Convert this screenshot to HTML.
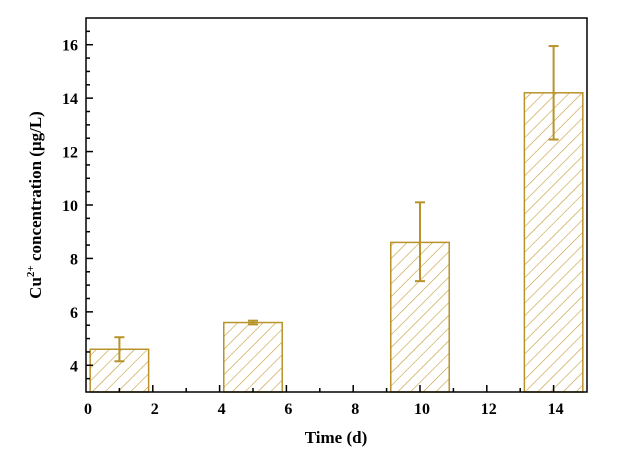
<!DOCTYPE html>
<html><head><meta charset="utf-8"><style>
body{margin:0;background:#fff;}
svg text{font-family:"Liberation Serif",serif;font-weight:bold;fill:#000;}
</style></head><body>
<svg id="chart" width="643" height="467" viewBox="0 0 643 467" xmlns="http://www.w3.org/2000/svg">
<defs>
<pattern id="hatch" patternUnits="userSpaceOnUse" width="9" height="9" patternTransform="rotate(45)">
<line x1="0" y1="0" x2="0" y2="9" stroke="#c49a3a" stroke-width="1.2"/>
</pattern>
</defs>
<g id="bars"></g>
<g id="axes"></g>
<text x="336" y="443" font-size="17" text-anchor="middle">Time (d)</text>
<text transform="translate(41,205) rotate(-90)" font-size="17" text-anchor="middle">Cu<tspan dy="-7" font-size="11">2+</tspan><tspan dy="7"> concentration (μg/L)</tspan></text>
</svg>
<script>
const categories=[1,5,10,14];
const values=[4.6,5.6,8.6,14.2];
const errUp=[0.45,0.07,1.5,1.75];
const errDown=[0.45,0.07,1.45,1.75];
const xTicks=[0,2,4,6,8,10,12,14];
const yTicks=[4,6,8,10,12,14,16];
const L=86,R=587,T=18,B=392,xmin=0,xmax=15,ymin=3,ymax=17;
const xs=v=>L+(v-xmin)/(xmax-xmin)*(R-L);
const ys=v=>B-(v-ymin)/(ymax-ymin)*(B-T);
const NS="http://www.w3.org/2000/svg";
const bars=document.getElementById('bars'),axes=document.getElementById('axes');
function mk(tag,attrs,parent){const e=document.createElementNS(NS,tag);for(const k in attrs)e.setAttribute(k,attrs[k]);parent.appendChild(e);return e;}
const C="#b8932a",bw=1.75;
categories.forEach((c,i)=>{
 const r=mk('rect',{x:xs(c-bw/2),y:ys(values[i]),width:xs(c+bw/2)-xs(c-bw/2),height:B-ys(values[i]),fill:'url(#hatch)',stroke:C,'stroke-width':1.5},bars);
 
 
 const g=mk('g',{stroke:C,'stroke-width':2},bars);
 
 
 const x=xs(c),y1=ys(values[i]+errUp[i]),y2=ys(values[i]-errDown[i]);
 mk('line',{x1:x,x2:x,y1:y1,y2:y2},g);
 mk('line',{x1:x-5,x2:x+5,y1:y1,y2:y1},g);
 mk('line',{x1:x-5,x2:x+5,y1:y2,y2:y2},g);
});
const frame=mk('rect',{x:L,y:T,width:R-L,height:B-T,fill:'none',stroke:'#000','stroke-width':1.5},axes);


for(let v=xmin+1;v<xmax;v++){const maj=v%2===0;mk('line',{x1:xs(v),x2:xs(v),y1:B,y2:B-(maj?7:4),stroke:'#000','stroke-width':1.5},axes);}
for(let v=ymin+0.5;v<ymax;v+=0.5){const maj=v%2===0;mk('line',{x1:L,x2:L+(maj?7:4),y1:ys(v),y2:ys(v),stroke:'#000','stroke-width':1.5},axes);}
xTicks.forEach(v=>{const t=mk('text',{x:xs(v)+2,y:B+22,'font-size':16,'text-anchor':'middle'},axes);t.textContent=v;
 
 });
yTicks.forEach(v=>{const t=mk('text',{x:L-8,y:ys(v)+6,'font-size':16,'text-anchor':'end'},axes);t.textContent=v;
 
 });
</script>
</body></html>
